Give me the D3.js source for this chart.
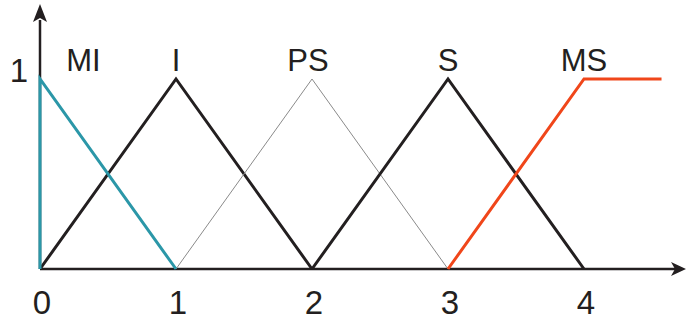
<!DOCTYPE html>
<html>
<head>
<meta charset="utf-8">
<script src="https://cdn.jsdelivr.net/npm/d3@7"></script>
<style>
  body { margin: 0; background: #fff; }
  text { font-family: "Liberation Sans", Arial, sans-serif; fill: #231f20; }
</style>
</head>
<body>
<div id="chart"></div>
<script>
// membership functions (x, mu)
const names = ['MI', 'I', 'PS', 'S', 'MS'];
const labelX = [0.32, 1, 1.97, 3, 4];
const mfMI = [[0, 0], [0, 1], [1, 0]];
const mfI = [[0, 0], [1, 1], [2, 0]];
const mfPS = [[1, 0], [2, 1], [3, 0]];
const mfS = [[2, 0], [3, 1], [4, 0]];
const mfMS = [[3, 0], [4, 1], [4.57, 1]];
const xTicks = [0, 1, 2, 3, 4];

const width = 686, height = 321;

const x = d3.scaleLinear().domain([0, 1]).range([40, 176]);
const y = d3.scaleLinear().domain([0, 1]).range([269, 79]);

const svg = d3.select('#chart')
    .append('svg')
    .attr('width', width)
    .attr('height', height);

const line = d3.line()
    .x(d => x(d[0]))
    .y(d => y(d[1]));

const series = [
    { data: mfI, color: '#231f20', w: 3 },
    { data: mfPS, color: '#8a8a8a', w: 1 },
    { data: mfS, color: '#231f20', w: 3 },
    { data: mfMI, color: '#2b97a8', w: 3 },
    { data: mfMS, color: '#f0461a', w: 3 }
];

// axes
svg.append('line')
    .attr('x1', x(0)).attr('x2', 678)
    .attr('y1', y(0)).attr('y2', y(0))
    .attr('stroke', '#231f20')
    .attr('stroke-width', 2.5);

svg.append('line')
    .attr('x1', x(0)).attr('x2', x(0))
    .attr('y1', y(0)).attr('y2', 20)
    .attr('stroke', '#231f20')
    .attr('stroke-width', 2.5);

// arrow heads
svg.append('path')
    .attr('d', `M686,${y(0)} L671,${y(0) - 7} L675,${y(0)} L671,${y(0) + 7} Z`)
    .attr('fill', '#231f20');
svg.append('path')
    .attr('d', `M${x(0)},4 L${x(0) - 7},22 L${x(0)},18 L${x(0) + 7},22 Z`)
    .attr('fill', '#231f20');

svg.selectAll('path.mf')
    .data(series)
    .join('path')
    .attr('class', 'mf')
    .attr('d', d => line(d.data))
    .attr('fill', 'none')
    .attr('stroke', d => d.color)
    .attr('stroke-width', d => d.w)
    .attr('stroke-linejoin', 'miter');

// tick labels
svg.selectAll('text.tick')
    .data(xTicks)
    .join('text')
    .attr('class', 'tick')
    .attr('x', d => x(d) + 2)
    .attr('y', 314)
    .attr('text-anchor', 'middle')
    .style('font-size', '33px')
    .text(d => d);

svg.append('text')
    .attr('x', 19)
    .attr('y', 82)
    .attr('text-anchor', 'middle')
    .style('font-size', '33px')
    .text('1');

// set names
svg.selectAll('text.name')
    .data(names)
    .join('text')
    .attr('class', 'name')
    .attr('x', (d, i) => x(labelX[i]))
    .attr('y', 71)
    .attr('text-anchor', 'middle')
    .style('font-size', '31px')
    .text(d => d);
</script>
</body>
</html>
